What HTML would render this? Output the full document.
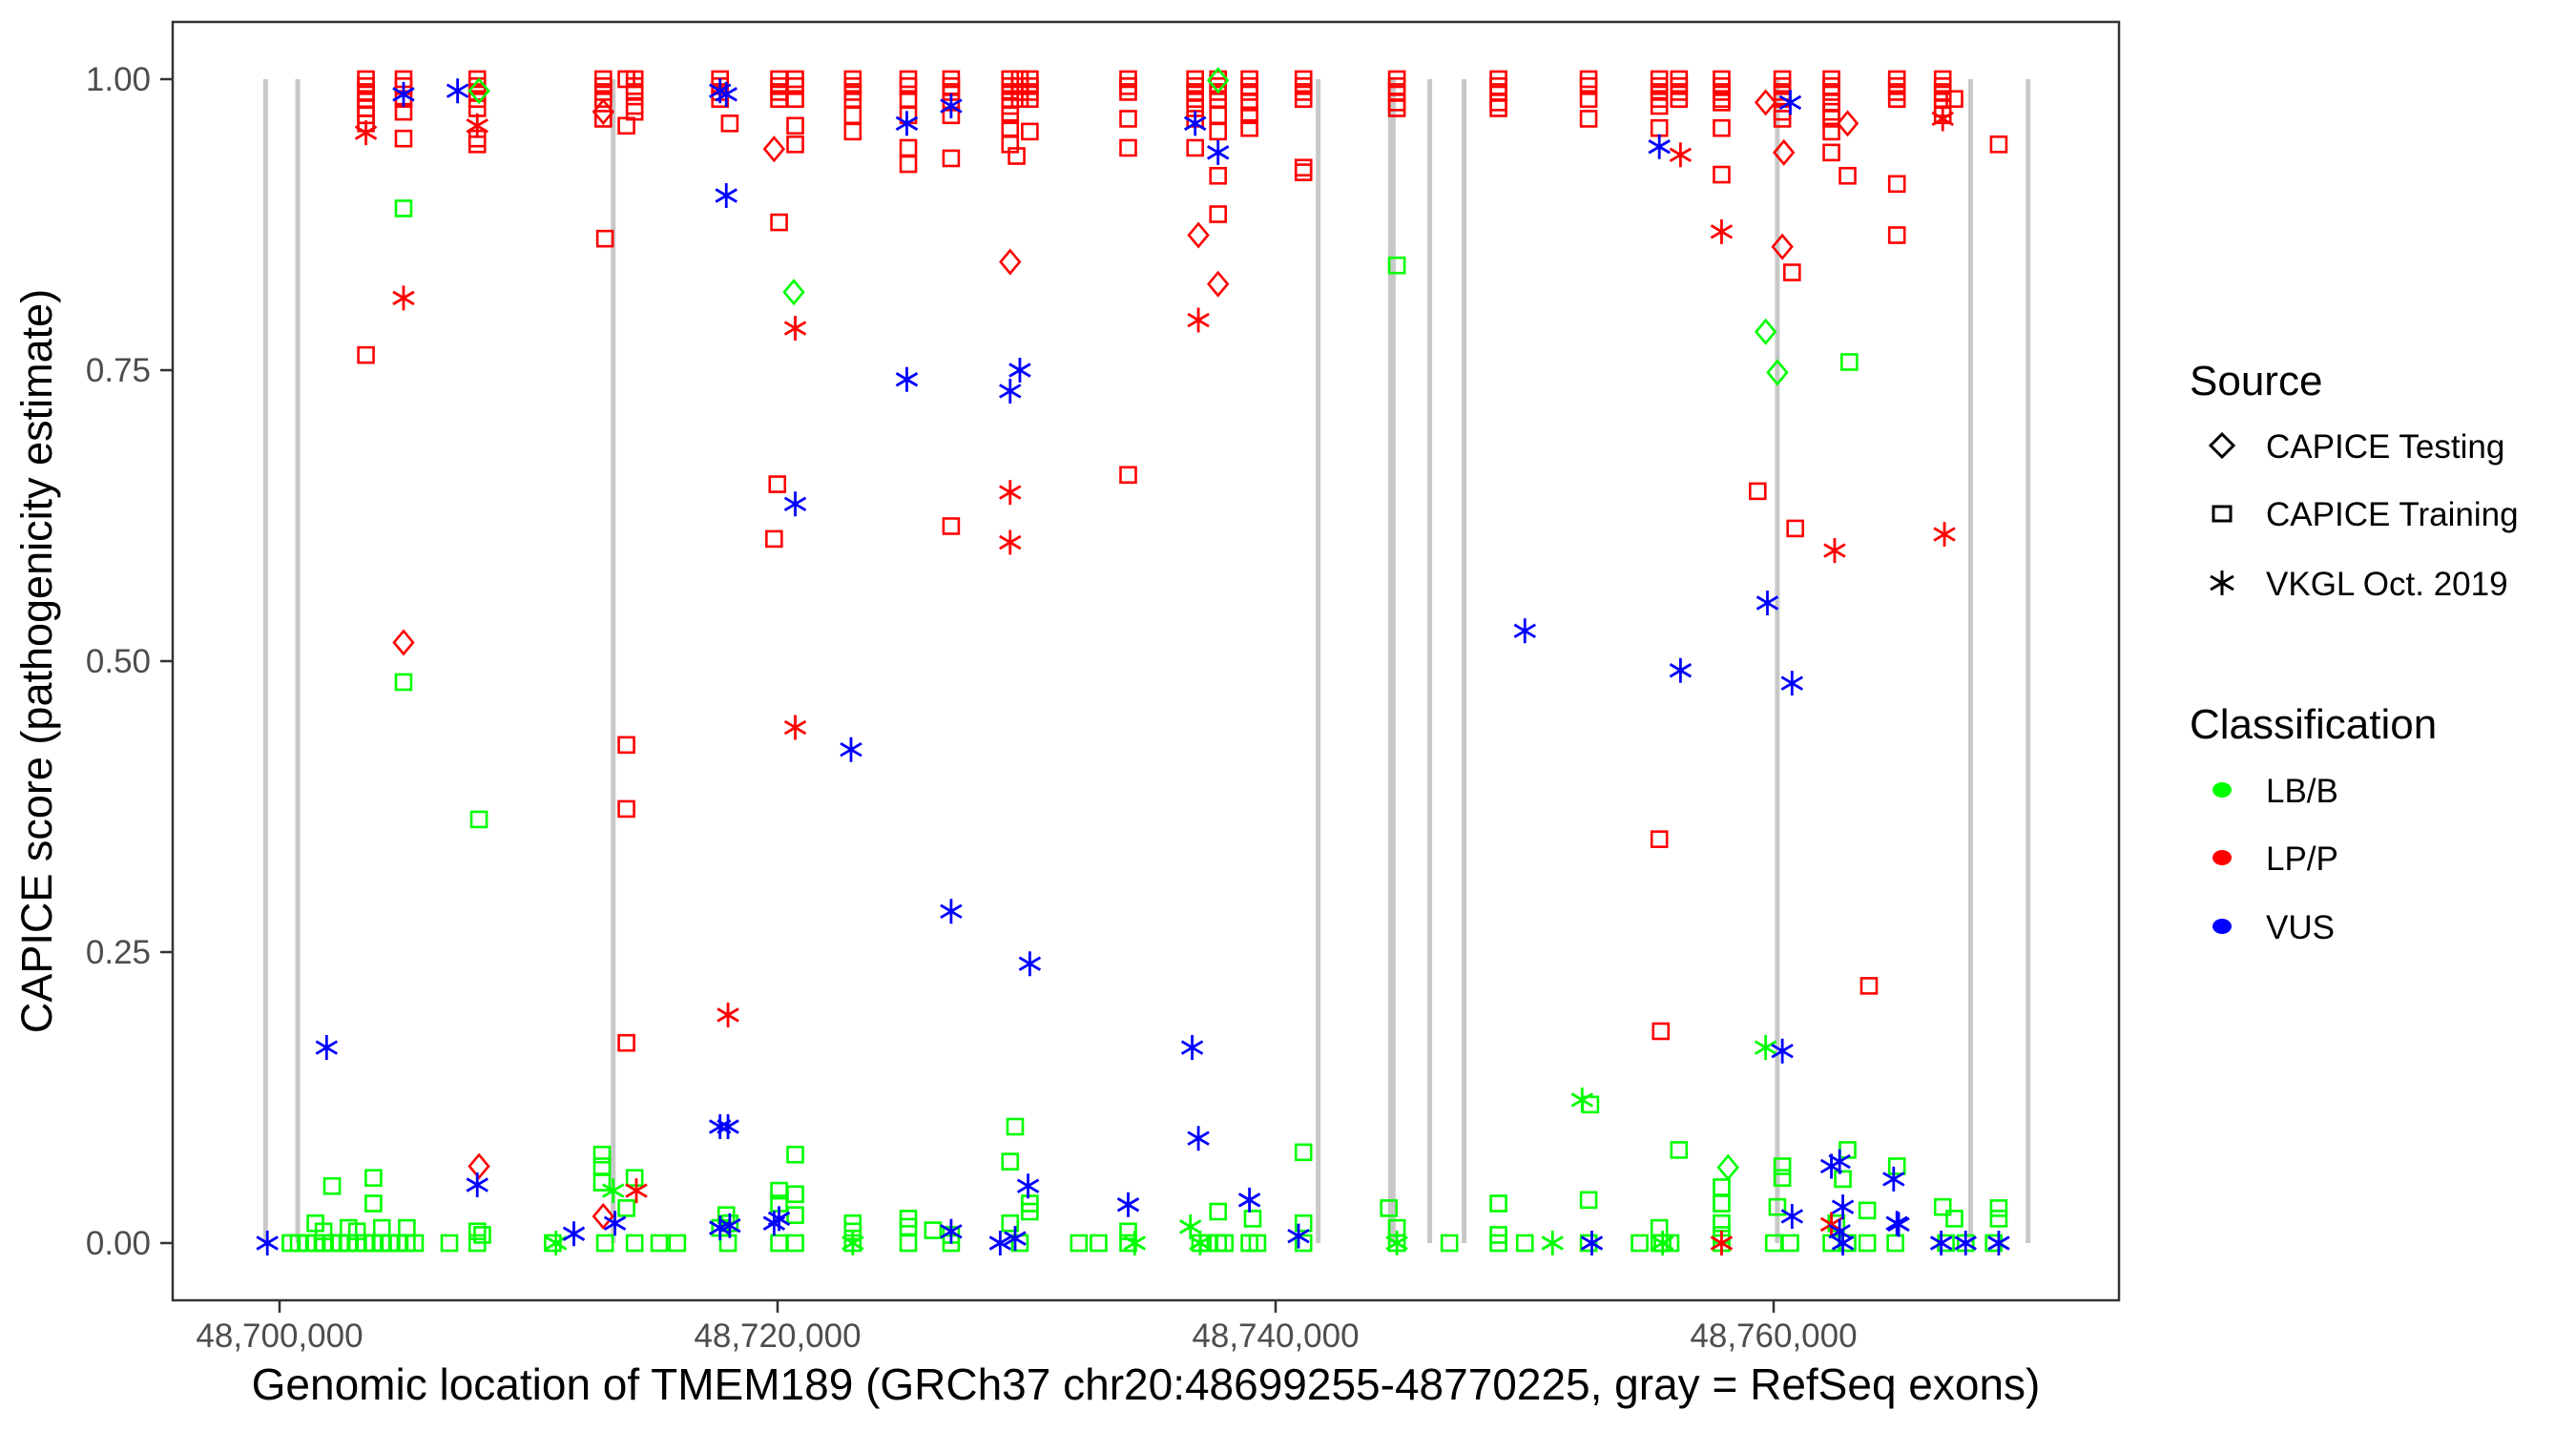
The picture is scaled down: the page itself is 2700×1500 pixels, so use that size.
<!DOCTYPE html>
<html><head><meta charset="utf-8"><style>
html,body{margin:0;padding:0;background:#fff;}
svg{display:block;font-family:"Liberation Sans",Arial,sans-serif;}
</style></head><body>
<svg id="chart" width="2700" height="1500" viewBox="0 0 2700 1500" xmlns="http://www.w3.org/2000/svg">
<rect x="0" y="0" width="2700" height="1500" fill="#fff"/>
<g id="exons"></g>
<g id="points"></g>
<rect x="181" y="23" width="2040" height="1340" fill="none" stroke="#333" stroke-width="2.5"/>
<g id="axes"></g>
<text x="1201" y="1467" font-size="46" text-anchor="middle" fill="#000">Genomic location of TMEM189 (GRCh37 chr20:48699255-48770225, gray = RefSeq exons)</text>
<text transform="translate(54,693) rotate(-90)" font-size="45" text-anchor="middle" fill="#000">CAPICE score (pathogenicity estimate)</text>
<g id="legend">
<text x="2295" y="414" font-size="44" fill="#000">Source</text>
<path d="M2329,455 L2341,467 L2329,479 L2317,467 Z" fill="none" stroke="#000" stroke-width="3"/>
<text x="2375" y="480" font-size="35" fill="#000">CAPICE Testing</text>
<rect x="2320" y="531" width="18" height="15" fill="none" stroke="#000" stroke-width="3"/>
<text x="2375" y="551" font-size="35" fill="#000">CAPICE Training</text>
<g stroke="#000" stroke-width="3"><line x1="2329" y1="598" x2="2329" y2="624"/><line x1="2317" y1="604" x2="2341" y2="618"/><line x1="2317" y1="618" x2="2341" y2="604"/></g>
<text x="2375" y="624" font-size="35" fill="#000">VKGL Oct. 2019</text>
<text x="2295" y="774" font-size="44" fill="#000">Classification</text>
<ellipse cx="2329" cy="828" rx="10" ry="8" fill="#00ff00"/>
<text x="2375" y="841" font-size="35" fill="#000">LB/B</text>
<ellipse cx="2329" cy="899" rx="10" ry="8" fill="#ff0000"/>
<text x="2375" y="912" font-size="35" fill="#000">LP/P</text>
<ellipse cx="2329" cy="971" rx="10" ry="8" fill="#0000ff"/>
<text x="2375" y="984" font-size="35" fill="#000">VUS</text>
</g>
</svg>
<script>
// positions in kb from 48,700,000; scores 0..1
const exonPosKb = [-0.56, 0.73, 13.4, 41.71, 44.67, 46.19, 47.57, 60.15, 67.91, 70.22];
const xTickKb = [0, 20, 40, 60];
const xTickLabels = ["48,700,000", "48,720,000", "48,740,000", "48,760,000"];
const yTickValues = [0, 0.25, 0.5, 0.75, 1];
const yTickLabels = ["0.00", "0.25", "0.50", "0.75", "1.00"];

const trainP = [
[3.47,1],[3.47,.994],[3.47,.989],[3.47,.983],[3.47,.975],[3.47,.969],[3.47,.962],[3.47,.763],
[4.98,1],[4.98,.994],[4.98,.983],[4.98,.972],[4.98,.949],
[7.94,1],[7.94,.994],[7.94,.989],[7.94,.983],[7.94,.975],[7.94,.949],[7.94,.944],
[13.0,1],[13.0,.994],[13.0,.989],[13.0,.983],[13.0,.966],[13.07,.863],
[14.26,1],[14.26,.994],[14.26,.989],[14.26,.977],[14.26,.972],[13.93,1],[13.93,.96],[13.93,.428],[13.93,.373],[13.93,.172],
[17.69,1],[17.69,.994],[17.69,.989],[17.69,.983],[18.08,.962],
[20.06,1],[20.06,.994],[20.06,.989],[20.06,.983],[20.06,.877],[20.71,1],[20.71,.994],[20.71,.983],[20.71,.96],[20.71,.944],[19.99,.652],[19.86,.605],
[23.02,1],[23.02,.994],[23.02,.989],[23.02,.983],[23.02,.969],[23.02,.955],
[25.25,1],[25.25,.994],[25.25,.983],[25.25,.969],[25.25,.941],[25.25,.927],
[26.97,1],[26.97,.994],[26.97,.989],[26.97,.98],[26.97,.969],[26.97,.932],[26.97,.616],
[29.34,1],[29.34,.994],[29.34,.989],[29.34,.983],[29.34,.977],[29.34,.969],[29.34,.958],[29.34,.944],
[29.73,1],[29.73,.994],[29.73,.989],[29.73,.983],[30.13,1],[30.13,.994],[30.13,.989],[30.13,.983],[30.13,.955],[29.6,.934],
[34.08,1],[34.08,.994],[34.08,.989],[34.08,.966],[34.08,.941],[34.08,.66],
[36.77,1],[36.77,.994],[36.77,.989],[36.77,.983],[36.77,.975],[36.77,.966],[36.77,.941],
[37.69,1],[37.69,.994],[37.69,.989],[37.69,.983],[37.69,.969],[37.69,.955],[37.69,.917],[37.69,.884],
[38.95,1],[38.95,.994],[38.95,.989],[38.95,.98],[38.95,.969],[38.95,.958],
[41.12,1],[41.12,.994],[41.12,.989],[41.12,.983],[41.12,.924],[41.12,.92],
[44.87,1],[44.87,.994],[44.87,.989],[44.87,.98],[44.87,.975],
[48.95,1],[48.95,.994],[48.95,.989],[48.95,.98],[48.95,.975],
[52.57,1],[52.57,.994],[52.57,.983],[52.57,.966],
[55.41,1],[55.41,.994],[55.41,.989],[55.41,.983],[55.41,.977],[55.41,.958],[55.41,.347],[55.47,.182],
[56.2,1],[56.2,.994],[56.2,.989],[56.2,.983],
[57.91,1],[57.91,.994],[57.91,.989],[57.91,.983],[57.91,.98],[57.91,.958],[57.91,.918],
[59.36,.646],
[60.35,1],[60.35,.994],[60.35,.989],[60.35,.983],[60.35,.972],[60.35,.966],[60.74,.834],[60.87,.614],
[62.32,1],[62.32,.994],[62.32,.989],[62.32,.98],[62.32,.972],[62.32,.966],[62.32,.955],[62.32,.937],[62.97,.917],[63.83,.221],
[64.95,1],[64.95,.994],[64.95,.989],[64.95,.983],[64.95,.91],[64.95,.866],
[66.79,1],[66.79,.994],[66.79,.989],[66.79,.983],[66.79,.975],[66.79,.969],[67.26,.983],
[69.04,.944]
];
const trainB = [
[0.44,0],[0.77,0],[1.11,0],[1.44,0],[1.77,0],[2.11,0],[2.44,0],[2.77,0],[3.11,0],[3.44,0],[3.77,0],[4.11,0],[4.44,0],[4.77,0],[5.11,0],[5.44,0],
[1.44,.017],[2.11,.049],[3.77,.034],[3.77,.056],[2.77,.013],[4.11,.013],[5.11,.013],[3.11,.01],[1.77,.01],
[4.98,.889],[4.98,.482],[8.01,.364],
[6.82,0],[7.94,0],[8.14,.007],[7.94,.01],
[10.97,0],[12.95,.076],[12.95,.066],[12.95,.052],[13.07,0],[14.26,.056],[14.26,0],[13.93,.03],[15.25,0],[15.97,0],
[17.94,.024],[18.01,0],[17.69,.013],[18.08,.017],
[20.06,.045],[20.06,.034],[20.06,0],[20.71,.076],[20.71,.042],[20.71,.024],[20.71,0],
[23.02,.017],[23.02,.01],[23.02,0],
[25.25,.021],[25.25,.014],[25.25,0],[26.24,.011],
[26.97,.007],[26.97,0],
[29.34,.07],[29.54,.1],[30.13,.034],[30.13,.027],[29.34,.017],[29.73,0],
[32.1,0],[32.89,0],[34.08,.01],[34.08,0],
[37.69,.027],[37.69,0],[36.97,0],[37.3,0],[37.96,0],
[38.95,0],[39.27,0],[39.08,.021],
[41.12,.078],[41.12,.017],[41.12,0],
[44.55,.03],[44.87,.013],[44.87,0],[44.87,.84],
[46.98,0],[48.95,.034],[48.95,.007],[48.95,0],[50.01,0],[52.57,.037],[52.57,0],[52.64,.119],
[54.62,0],[55.41,.013],[55.41,0],[55.54,0],[55.86,0],[56.2,.08],
[57.91,.048],[57.91,.034],[57.91,.017],[57.91,.007],[57.91,0],
[60.01,0],[60.35,.056],[60.35,.066],[60.15,.031],[60.67,0],
[62.32,0],[62.52,.017],[62.78,.055],[62.97,.08],[62.97,0],[63.76,.028],[63.76,0],[63.04,.757],
[64.95,.066],[64.89,0],[66.79,.031],[67.26,.021],[66.92,0],
[69.04,.03],[69.04,.021],[68.84,0],[67.71,0]
];
const testP = [[8.01,.066],[4.98,.516],[13.0,.972],[13.0,.023],[19.86,.94],[29.34,.843],[36.9,.866],[37.69,.824],[59.68,.98],[60.41,.937],[60.35,.856],[62.97,.962]];
const testB = [[8.01,.99],[20.65,.817],[37.69,.999],[59.68,.783],[60.15,.748],[58.17,.065]];
const vkglP = [[3.47,.954],[4.98,.812],[7.94,.96],[14.33,.045],[18.01,.196],[20.71,.786],[20.71,.443],[29.34,.645],[29.34,.602],[36.9,.793],[56.26,.935],[57.91,.869],[62.45,.595],[66.86,.609],[66.79,.966],[57.91,0],[62.32,.016]];
const vkglB = [[11.1,0],[13.4,.045],[23.02,0],[34.34,0],[36.58,.014],[44.87,0],[51.12,0],[52.31,.123],[55.54,0],[59.68,.168],[36.97,0]];
const vkglV = [[-0.49,0],[1.89,.168],[4.98,.987],[7.15,.99],[7.94,.05],[11.82,.008],[13.47,.017],[17.69,.99],[17.94,.987],[17.94,.9],[17.69,.1],[18.01,.1],[17.69,.013],[18.08,.015],[19.86,.017],[20.06,.021],[20.71,.635],[22.95,.424],[25.19,.962],[25.19,.742],[26.97,.977],[26.97,.285],[26.97,.01],[28.94,0],[29.54,.004],[29.34,.732],[29.73,.75],[30.06,.049],[30.13,.24],[34.08,.033],[36.65,.168],[36.9,.09],[36.77,.962],[37.69,.937],[38.95,.037],[40.92,.006],[50.01,.526],[52.7,0],[55.41,.942],[56.26,.492],[59.75,.55],[60.74,.481],[60.67,.98],[60.35,.165],[60.74,.023],[62.32,.066],[62.65,.07],[62.78,.031],[62.65,.01],[62.78,0],[64.82,.055],[65.02,.016],[66.73,0],[67.71,0],[69.04,0],[64.95,.017]];

const NS = "http://www.w3.org/2000/svg";
function xScale(kb){ return 293 + kb * 26.1; }
function yScale(s){ return 1303 - s * 1220; }
function mk(tag, attrs, parent){ const e = document.createElementNS(NS, tag); for (const k in attrs) e.setAttribute(k, attrs[k]); parent.appendChild(e); return e; }

const exG = document.getElementById('exons');
exonPosKb.forEach((kb, i) => {
  const l = mk('line', {x1: xScale(kb), x2: xScale(kb), y1: yScale(1), y2: yScale(0), stroke: '#c8c8c8', 'stroke-width': (i === 4 ? 8 : 5)}, exG);
  
  
});

const axG = document.getElementById('axes');
xTickKb.forEach((kb, i) => {
  const t = mk('line', {x1: xScale(kb), x2: xScale(kb), y1: 1363, y2: 1376, stroke: '#333', 'stroke-width': 2.5}, axG);
  
  
  const lb = mk('text', {x: xScale(kb), y: 1412, 'font-size': 35, 'text-anchor': 'middle', fill: '#4d4d4d'}, axG);
  lb.textContent = xTickLabels[i];
  
  
});
yTickValues.forEach((v, i) => {
  const t = mk('line', {x1: 168, x2: 181, y1: yScale(v), y2: yScale(v), stroke: '#333', 'stroke-width': 2.5}, axG);
  
  
  const lb = mk('text', {x: 158, y: yScale(v) + 12, 'font-size': 35, 'text-anchor': 'end', fill: '#4d4d4d'}, axG);
  lb.textContent = yTickLabels[i];
  
  
});

const ptG = document.getElementById('points');
function drawSquare(d, col){ const x = xScale(d[0]), y = yScale(d[1]);
  const e = mk('rect', {x: x - 8, y: y - 8, width: 16, height: 16, fill: 'none', stroke: col, 'stroke-width': 2.6}, ptG);
  
   }
function drawDiamond(d, col){ const x = xScale(d[0]), y = yScale(d[1]);
  const e = mk('path', {d: `M${x},${y-12} L${x+10},${y} L${x},${y+12} L${x-10},${y} Z`, fill: 'none', stroke: col, 'stroke-width': 2.6}, ptG);
  
   }
function drawStar(d, col){ const x = xScale(d[0]), y = yScale(d[1]);
  const e = mk('path', {d: `M${x},${y-13} L${x},${y+13} M${x-11},${y-6.5} L${x+11},${y+6.5} M${x-11},${y+6.5} L${x+11},${y-6.5}`, fill: 'none', stroke: col, 'stroke-width': 2.8}, ptG);
  
   }
trainB.forEach(d => drawSquare(d, '#00ff00'));
trainP.forEach(d => drawSquare(d, '#ff0000'));
testB.forEach(d => drawDiamond(d, '#00ff00'));
testP.forEach(d => drawDiamond(d, '#ff0000'));
vkglB.forEach(d => drawStar(d, '#00ff00'));
vkglP.forEach(d => drawStar(d, '#ff0000'));
vkglV.forEach(d => drawStar(d, '#0000ff'));
</script>
</body></html>
